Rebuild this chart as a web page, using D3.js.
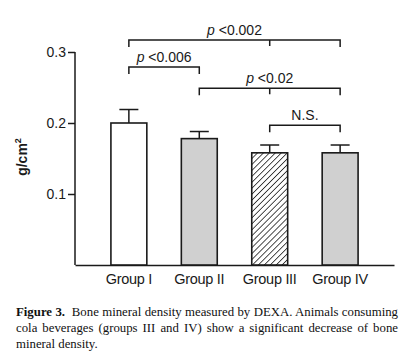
<!DOCTYPE html>
<html>
<head>
<meta charset="utf-8">
<script src="https://cdn.jsdelivr.net/npm/d3@7"></script>
<style>
  body { margin: 0; background: #fff; }
  #caption {
    position: absolute; left: 16px; top: 304px; width: 382px;
    font-family: "Liberation Serif", "Times New Roman", serif;
    font-size: 12.8px; line-height: 16px; text-align: justify; color: #111;
  }
</style>
</head>
<body>
<svg id="chart" width="411" height="300"></svg>
<div id="caption"><span><b>Figure 3.</b>&nbsp; Bone mineral density measured by DEXA. Animals consuming cola beverages (groups III and IV) show a significant decrease of bone mineral density.</span></div>
<script>
var GROUPS = ["Group I", "Group II", "Group III", "Group IV"];
var MEANS = [0.200, 0.178, 0.158, 0.158];
var ERRORS = [0.019, 0.010, 0.011, 0.011];
var FILLS = ["white", "gray", "hatch", "gray"];
var Y_TICKS = [0.1, 0.2, 0.3];

// significance brackets: from group, to group, extra tick, label, height
var SIG_FROM = [0, 0, 1, 2];
var SIG_TO = [3, 1, 3, 3];
var SIG_MID = [2, null, 2, null];
var SIG_LABEL = ["p <0.002", "p <0.006", "p <0.02", "N.S."];
var SIG_LEVEL = [0.317, 0.279, 0.249, 0.197];

document.addEventListener("DOMContentLoaded", function() {
  drawChart();
});

function drawChart() {
  var svg = d3.select("#chart");
  var ink = "#1a1a1a";

  var defs = svg.append("defs");
  var hatch = defs.append("pattern")
    .attr("id", "hatch")
    .attr("patternUnits", "userSpaceOnUse")
    .attr("width", 4.2).attr("height", 4.2)
    .attr("patternTransform", "rotate(45)");
  hatch.append("rect").attr("width", 4.2).attr("height", 4.2).attr("fill", "#fff");
  hatch.append("line")
    .attr("x1", 0).attr("y1", 0).attr("x2", 0).attr("y2", 4.2)
    .attr("stroke", "#222").attr("stroke-width", 1.6);

  var fillFor = function(f) {
    if (f === "hatch") return "url(#hatch)";
    if (f === "gray") return "#d0d0d0";
    return "#fff";
  };

  var x = d3.scaleBand()
    .domain(d3.range(GROUPS.length))
    .range([75, 394])
    .paddingInner(0.49)
    .paddingOuter(0.51);

  var y = d3.scaleLinear()
    .domain([0, 0.3])
    .range([265, 52]);

  var cx = function(i) { return x(i) + x.bandwidth() / 2; };

  // y axis
  var yAxis = svg.append("g")
    .attr("transform", "translate(75,0)")
    .call(d3.axisLeft(y).tickValues(Y_TICKS).tickSize(7).tickPadding(2).tickFormat(d3.format(".1f")));
  yAxis.select(".domain").attr("d", "M0," + y(0.3) + "V" + y(0)).attr("stroke", ink).attr("stroke-width", 1.5);
  yAxis.selectAll(".tick line").attr("stroke", ink).attr("stroke-width", 1.5);
  yAxis.selectAll(".tick text")
    .attr("font-family", "Liberation Sans, Arial, sans-serif")
    .attr("font-size", 14).attr("fill", ink);

  // x axis line
  var xAxis = svg.append("g")
    .attr("transform", "translate(0," + y(0) + ")")
    .call(d3.axisBottom(x).tickSize(0).tickPadding(9).tickFormat(function(i) { return GROUPS[i]; }));
  xAxis.select(".domain").attr("stroke", ink).attr("stroke-width", 1.5);
  xAxis.selectAll(".tick text")
    .attr("font-family", "Liberation Sans, Arial, sans-serif")
    .attr("font-size", 14.5).attr("fill", ink)
    .attr("letter-spacing", "-0.3");

  // y label
  svg.append("text")
    .attr("transform", "translate(27," + 157 + ") rotate(-90)")
    .attr("text-anchor", "middle")
    .attr("font-family", "Liberation Sans, Arial, sans-serif")
    .attr("font-size", 14).attr("font-weight", "bold").attr("fill", ink)
    .text("g/cm")
    .append("tspan").attr("font-size", 9).attr("dy", -6).text("2");

  // error bars
  var err = svg.append("g").attr("stroke", ink).attr("stroke-width", 1.5);
  GROUPS.forEach(function(g, i) {
    err.append("line")
      .attr("x1", cx(i)).attr("x2", cx(i))
      .attr("y1", y(MEANS[i])).attr("y2", y(MEANS[i] + ERRORS[i]));
    err.append("line")
      .attr("x1", cx(i) - 9.5).attr("x2", cx(i) + 9.5)
      .attr("y1", y(MEANS[i] + ERRORS[i])).attr("y2", y(MEANS[i] + ERRORS[i]));
  });

  // bars
  svg.append("g").selectAll("rect")
    .data(MEANS)
    .enter()
    .append("rect")
    .attr("x", function(d, i) { return x(i); })
    .attr("y", function(d) { return y(d); })
    .attr("width", x.bandwidth())
    .attr("height", function(d) { return y(0) - y(d); })
    .attr("fill", function(d, i) { return fillFor(FILLS[i]); })
    .attr("stroke", ink)
    .attr("stroke-width", 1.6);

  // significance brackets
  var sig = svg.append("g");
  SIG_LABEL.forEach(function(lab, k) {
    var yy = y(SIG_LEVEL[k]);
    var x1 = cx(SIG_FROM[k]), x2 = cx(SIG_TO[k]);
    var path = "M" + x1 + "," + (yy + 7) + "V" + yy + "H" + x2 + "V" + (yy + 7);
    if (SIG_MID[k] !== null) {
      path += "M" + cx(SIG_MID[k]) + "," + yy + "V" + (yy + 6);
    }
    sig.append("path")
      .attr("d", path)
      .attr("fill", "none").attr("stroke", ink).attr("stroke-width", 1.5);
    var t = sig.append("text")
      .attr("x", (x1 + x2) / 2)
      .attr("y", yy - 5)
      .attr("text-anchor", "middle")
      .attr("font-family", "Liberation Sans, Arial, sans-serif")
      .attr("font-size", 14).attr("fill", ink);
    if (lab.indexOf("p ") === 0) {
      t.append("tspan").attr("font-style", "italic").text("p");
      t.append("tspan").text(" " + lab.slice(2));
    } else {
      t.text(lab);
    }
  });
}
</script>
</body>
</html>
